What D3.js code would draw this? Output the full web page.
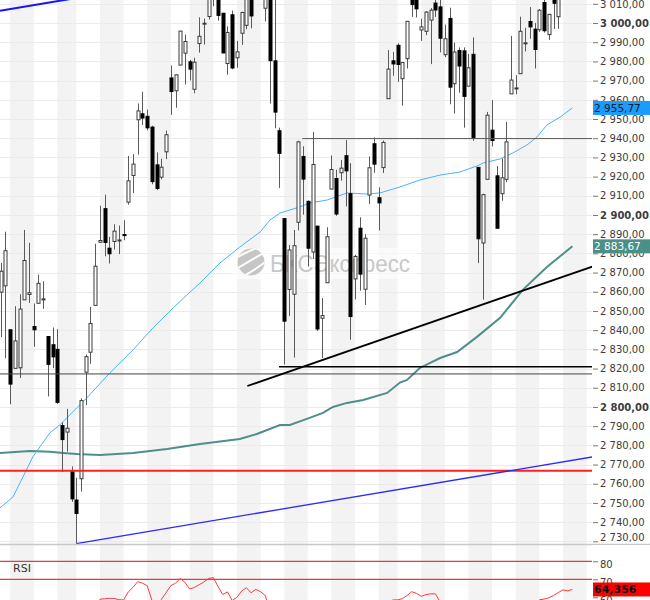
<!DOCTYPE html>
<html><head><meta charset="utf-8">
<script src="https://cdn.jsdelivr.net/npm/d3@7"></script>
<style>body{margin:0;background:#fff;overflow:hidden}svg{display:block;font-family:"DejaVu Sans",sans-serif}</style>
</head><body><svg id="c" width="650" height="600"></svg>
<script>
// ---- data (S&P 500 daily) ----
const dates = ["2019-05-09","2019-05-10","2019-05-13","2019-05-14","2019-05-15","2019-05-16","2019-05-17","2019-05-20","2019-05-21","2019-05-22","2019-05-23","2019-05-24","2019-05-28","2019-05-29","2019-05-30","2019-05-31","2019-06-03","2019-06-04","2019-06-05","2019-06-06","2019-06-07","2019-06-10","2019-06-11","2019-06-12","2019-06-13","2019-06-14","2019-06-17","2019-06-18","2019-06-19","2019-06-20","2019-06-21","2019-06-24","2019-06-25","2019-06-26","2019-06-27","2019-06-28","2019-07-01","2019-07-02","2019-07-03","2019-07-05","2019-07-08","2019-07-09","2019-07-10","2019-07-11","2019-07-12","2019-07-15","2019-07-16","2019-07-17","2019-07-18","2019-07-19","2019-07-22","2019-07-23","2019-07-24","2019-07-25","2019-07-26","2019-07-29","2019-07-30","2019-07-31","2019-08-01","2019-08-02","2019-08-05","2019-08-06","2019-08-07","2019-08-08","2019-08-09","2019-08-12","2019-08-13","2019-08-14","2019-08-15","2019-08-16","2019-08-19","2019-08-20","2019-08-21","2019-08-22","2019-08-23","2019-08-26","2019-08-27","2019-08-28","2019-08-29","2019-08-30","2019-09-03","2019-09-04","2019-09-05","2019-09-06","2019-09-09","2019-09-10","2019-09-11","2019-09-12","2019-09-13","2019-09-16","2019-09-17","2019-09-18","2019-09-19","2019-09-20","2019-09-23","2019-09-24","2019-09-25","2019-09-26","2019-09-27","2019-09-30","2019-10-01","2019-10-02","2019-10-03","2019-10-04","2019-10-07","2019-10-08","2019-10-09","2019-10-10","2019-10-11","2019-10-14","2019-10-15","2019-10-16","2019-10-17","2019-10-18","2019-10-21","2019-10-22","2019-10-23","2019-10-24","2019-10-25","2019-10-28","2019-10-29","2019-10-30"];
const opens = [2859.8,2863.1,2840.2,2820.1,2820.4,2855.8,2858.6,2841.9,2854.0,2856.1,2836.7,2832.4,2830.0,2790.3,2786.9,2766.2,2751.5,2762.6,2818.1,2828.5,2852.9,2885.8,2903.3,2882.7,2886.2,2886.8,2889.8,2906.7,2920.6,2949.6,2952.7,2951.4,2945.8,2926.1,2919.7,2932.9,2971.4,2964.7,2978.1,2984.3,2979.8,2965.5,2989.3,2999.6,3003.4,3017.8,3012.1,3005.1,2978.9,3004.3,2981.9,2994.7,2998.8,3016.3,3013.3,3024.5,3007.7,3016.2,2980.3,2943.9,2898.1,2861.2,2858.7,2896.2,2930.5,2907.1,2880.7,2894.2,2846.2,2864.7,2913.5,2919.0,2922.0,2930.9,2911.1,2866.7,2893.1,2861.3,2910.4,2937.1,2909.0,2924.7,2960.6,2980.3,2988.4,2971.0,2981.4,3018.2,3012.2,2996.4,2995.7,3001.5,3010.4,3008.4,2983.5,3002.4,2968.4,2985.7,2985.5,2967.1,2983.7,2924.8,2885.4,2918.6,2944.2,2920.4,2911.1,2918.6,2963.1,2965.8,2973.6,2989.7,3000.8,2996.8,2996.5,3010.7,2994.0,3014.8,3003.3,3032.1,3035.4,3039.7];
const highs = [2875.0,2891.3,2840.2,2852.5,2858.7,2892.2,2885.5,2853.9,2868.9,2865.5,2836.7,2841.4,2840.5,2792.0,2799.0,2769.0,2763.1,2804.5,2827.3,2852.1,2885.0,2904.8,2910.6,2888.6,2895.2,2894.5,2897.3,2930.8,2931.7,2958.1,2964.2,2954.9,2946.5,2932.6,2929.3,2944.0,2977.9,2973.2,2995.8,2994.0,2980.8,2981.9,3003.0,3002.3,3013.9,3017.8,3015.0,3005.3,2998.3,3006.5,2990.7,3005.9,3019.6,3016.3,3028.0,3025.6,3017.2,3017.4,3013.6,2945.5,2898.1,2884.4,2892.2,2938.7,2935.8,2907.6,2943.3,2894.2,2856.7,2893.6,2931.0,2923.6,2928.7,2939.1,2927.0,2879.3,2898.8,2890.0,2930.5,2940.4,2914.4,2938.8,2985.9,2985.0,2989.4,2979.4,3000.9,3021.0,3017.3,3002.2,3006.2,3007.8,3021.9,3016.4,2999.2,3008.0,2989.8,2987.3,2987.3,2983.9,2992.5,2924.8,2911.1,2953.7,2959.8,2925.5,2929.3,2948.5,2993.3,2972.8,3003.3,2997.5,3008.3,3000.0,3007.3,3014.6,3004.8,3016.1,3027.4,3044.1,3047.9,3050.1];
const lows = [2836.4,2825.4,2801.4,2820.1,2815.1,2855.8,2854.2,2831.3,2854.0,2851.1,2805.5,2820.2,2801.6,2766.1,2776.7,2750.5,2728.8,2755.9,2800.9,2822.5,2852.9,2885.5,2878.5,2874.7,2882.0,2879.6,2886.9,2905.4,2911.4,2931.5,2946.9,2944.1,2916.0,2913.0,2918.6,2929.1,2952.2,2955.9,2978.0,2968.0,2970.1,2963.4,2984.6,2988.8,3001.9,3008.8,3001.2,2984.3,2973.1,2975.9,2976.7,2988.6,2996.8,2997.2,3012.6,3014.5,3000.9,2958.1,2945.2,2914.1,2822.1,2847.4,2825.7,2892.0,2900.2,2873.1,2877.1,2839.6,2825.5,2864.7,2913.5,2899.6,2917.9,2904.5,2835.0,2856.0,2860.6,2853.1,2905.7,2922.0,2891.9,2921.9,2960.6,2972.5,2969.4,2957.0,2976.3,3003.2,3002.9,2990.7,2993.7,2978.6,3003.2,2984.7,2982.2,2957.7,2952.9,2963.7,2945.5,2967.1,2938.7,2874.9,2855.9,2918.6,2935.7,2892.7,2907.4,2917.1,2963.1,2962.9,2973.6,2985.2,2991.8,2976.3,2995.4,2995.0,2991.2,2996.9,2997.0,3032.1,3034.8,3026.0];
const closes = [2870.7,2881.4,2811.9,2834.4,2851.0,2876.3,2859.5,2840.2,2864.4,2856.3,2822.2,2826.1,2802.4,2783.0,2788.9,2752.1,2744.5,2803.3,2826.2,2843.5,2873.3,2886.7,2885.7,2879.8,2891.6,2887.0,2889.7,2917.8,2926.5,2954.2,2950.5,2945.4,2917.4,2913.8,2924.9,2941.8,2964.3,2973.0,2995.8,2990.4,2976.0,2979.6,2993.1,2999.9,3013.8,3014.3,3004.0,2984.4,2995.1,2976.6,2985.0,3005.5,3019.6,3003.7,3025.9,3021.0,3013.2,2980.4,2953.6,2932.1,2844.7,2881.8,2884.0,2938.1,2918.7,2882.7,2926.3,2840.6,2847.6,2888.7,2923.7,2900.5,2924.4,2923.0,2847.1,2878.4,2869.2,2887.9,2924.6,2926.5,2906.3,2937.8,2976.0,2978.7,2978.4,2979.4,3000.9,3009.6,3007.4,2998.0,3005.7,3006.7,3006.8,2992.1,2991.8,2966.6,2984.9,2977.6,2961.8,2976.7,2940.3,2887.6,2910.6,2952.0,2938.8,2893.1,2919.4,2938.1,2970.3,2966.2,2995.7,2989.7,2998.0,2986.2,3006.7,2996.0,3004.5,3010.3,3022.6,3039.4,3036.9,3046.8];
const rsi = [45,48,37,41,45,50,46,42,47,45,38,39,35,31,33,28,27,40,46,50,56,58.9,59.2,59.4,59.4,58.7,58.5,63,65.5,68.7,67.8,66.5,58.4,56,58.8,62.5,66.5,67.8,70.5,68.3,64.6,65.5,67,68.5,70.5,70.9,66,61.5,63,58.2,60,63.5,65.3,62.5,64.4,63.1,61,52,46,42,33,40,41,50,47,42,49,39,40,46,50,47,50,50,40,44,43,46,51,51,48,52,57.5,58.5,58.6,59.2,61,63.1,62.2,60.5,61.5,61.9,61.9,57.5,56,51,54,53,50,52,45,37,42,49,46,40,44,48,53,53,57,56,57.5,55,58.6,59.0,59.7,61,62.6,64.1,63.6,64.356];
// moving averages read at sample points (trading-day index, value)
const ma50Pos = [-0.15,2.6,4.7,6.8,8.3,10.4,12.5,14,16.1,17.8,23.1,28,32.2,36.5,39.4,42.2,46.4,50.6,54.9,57,59.1,63.3,65.5,69.1,73.3,77.5,80.3,84.5,88.7,93,97.2,100.8,102.1,105.7,108.4,111.4,113.5,115.6,118.4,121];
const ma50Val = [2747.4,2753.1,2763.5,2774.0,2779.2,2786.5,2790.6,2794.3,2799.5,2803.6,2817.7,2829.7,2841.1,2851.6,2858.3,2864.6,2875.0,2883.3,2891.1,2897.4,2901.0,2904.2,2906.3,2907.8,2911.5,2910.9,2911.5,2914.6,2918.2,2920.8,2922.4,2925.5,2927.1,2929.2,2932.3,2936.5,2940.6,2946.9,2951.0,2955.77];
const ma200Pos = [-0.15,6.2,10.4,13.2,16.1,21,28,35.2,42.2,46.4,50.6,54.2,59.1,61.2,64.8,68.2,70.3,73.3,76.7,81.8,84.5,86,88.7,93,96.6,100.8,105.7,110.5,115.6,121];
const ma200Val = [2776.0,2777.1,2776.6,2776.0,2775.5,2775.0,2776.0,2778.1,2780.7,2782.0,2783.3,2785.9,2790.6,2790.6,2793.8,2796.9,2800.0,2802.1,2803.6,2807.3,2812.7,2814.1,2820.3,2825.5,2828.6,2836.5,2846.4,2861.0,2872.9,2883.67];
// drawn lines: [startIndex, startValue, endIndex, endValue]
const channelLow = [16, 2728.8, 125.3, 2774.0];
const channelHigh = [-0.15, 3006.4, 30, 3018.8];
const supportLine = [52.2, 2810.9, 125.3, 2873.2];
const level2940 = [63.8, 2939.8, 125.3, 2939.8];
const level2821 = [58.9, 2820.9, 125.3, 2820.9];
const level2817 = [-1, 2817.2, 125.3, 2817.2];
const levelRed = [-1, 2766.7, 125.3, 2766.7];
const priceTicks = d3.range(2730, 3011, 10);
const rsiTicks = [60, 70, 80];
const rsiLevels = [70, 80];

// ---- layout ----
const W = 650, H = 600, plotR = 592, priceB = 544;
const svg = d3.select("#c");
const x = d3.scaleLinear().domain([0, 121]).range([0.7, 572.4]);
const y = d3.scaleLinear().domain([2728.6, 3012]).range([priceB, 0]);
const ry = d3.scaleLinear().domain([70, 80]).range([579.3, 561.3]);
const loc = d3.formatLocale({decimal: ",", thousands: "\u00a0", grouping: [3], currency: ["", ""]});
const fmt2 = loc.format(",.2f"), fmt3 = loc.format(",.3f");

const defs = svg.append("defs");
defs.append("clipPath").attr("id", "cp").append("rect").attr("x", 0).attr("y", 0).attr("width", plotR).attr("height", priceB);
defs.append("clipPath").attr("id", "cr").append("rect").attr("x", 0).attr("y", priceB + 1).attr("width", plotR).attr("height", H - priceB);
defs.append("clipPath").attr("id", "cl").append("circle").attr("cx", 251).attr("cy", 262).attr("r", 13.5);

// weekly bands
const parse = d3.timeParse("%Y-%m-%d");
const dt = dates.map(parse);
const weekStarts = [];
dt.forEach((d, i) => { if (i === 0 || d3.timeMonday.count(dt[i - 1], d) > 0) weekStarts.push(i); });
const ref = parse("2019-05-13");
const bands = weekStarts.map((s, k) => {
  const x0 = k === 0 ? 0 : x(s);
  const x1 = k < weekStarts.length - 1 ? x(weekStarts[k + 1]) : x(s + 5);
  const wk = d3.timeMonday.count(ref, dt[s]);
  return {x0, x1, gray: Math.abs(wk) % 2 === 0 && dt[s] >= ref || (dt[s] < ref && Math.abs(wk) % 2 === 0)};
});
// last band continues to the edge (white)
const lastEnd = bands[bands.length - 1].x1;
bands.push({x0: lastEnd, x1: plotR, gray: !bands[bands.length - 1].gray});
svg.append("g").selectAll("rect").data(bands.filter(b => b.gray)).join("rect")
  .attr("x", b => b.x0).attr("y", 0).attr("width", b => Math.min(b.x1, plotR) - b.x0).attr("height", H)
  .attr("fill", "#f3f3f3");

// horizontal grid
svg.append("g").selectAll("line").data(priceTicks).join("line")
  .attr("x1", 0).attr("x2", plotR).attr("y1", d => Math.round(y(d)) + 0.5).attr("y2", d => Math.round(y(d)) + 0.5)
  .attr("stroke", "#ebebeb").attr("stroke-width", 1);

// watermark
const wm = svg.append("g");
wm.append("rect").attr("x", 232).attr("y", 248).attr("width", 185).attr("height", 31).attr("fill", "#fff").attr("opacity", 0.55);
wm.append("circle").attr("cx", 251).attr("cy", 262).attr("r", 13.5).attr("fill", "#c6c6c6");
const lg = wm.append("g").attr("clip-path", "url(#cl)").attr("fill", "none").attr("stroke", "#fff").attr("stroke-width", 2);
lg.append("path").attr("d", "M236,258 Q250,250 262,246");
lg.append("path").attr("d", "M238,268 Q254,258 266,252");
lg.append("path").attr("d", "M242,277 Q258,268 268,260");
wm.append("text").attr("x", 270).attr("y", 271.5).attr("font-family", "'Liberation Sans',Arial,sans-serif")
  .attr("font-size", 23).attr("fill", "#c8c8c8").attr("textLength", 140).attr("lengthAdjust", "spacingAndGlyphs")
  .text("БКСЭкспресс");

// price panel
const pg = svg.append("g").attr("clip-path", "url(#cp)");
const line = d3.line().x(d => x(d[0])).y(d => y(d[1]));
pg.append("path").datum(ma200Pos.map((p, i) => [p, ma200Val[i]])).attr("d", line)
  .attr("fill", "none").attr("stroke", "#4d8f8a").attr("stroke-width", 2);
pg.append("path").datum(ma50Pos.map((p, i) => [p, ma50Val[i]])).attr("d", line)
  .attr("fill", "none").attr("stroke", "#4cb3f7").attr("stroke-width", 1);

const candles = dates.map((d, i) => ({i, o: opens[i], h: highs[i], l: lows[i], c: closes[i]}));
const cg = pg.append("g");
cg.selectAll("line").data(candles).join("line")
  .attr("x1", d => Math.round(x(d.i)) + 0.5).attr("x2", d => Math.round(x(d.i)) + 0.5)
  .attr("y1", d => y(d.h)).attr("y2", d => y(d.l))
  .attr("stroke", "#5a5a5a").attr("stroke-width", 1);
cg.selectAll("rect").data(candles).join("rect")
  .attr("x", d => Math.round(x(d.i)) - 1).attr("width", 3)
  .attr("y", d => y(Math.max(d.o, d.c))).attr("height", d => Math.max(1, Math.abs(y(d.o) - y(d.c))))
  .attr("fill", d => d.c < d.o ? "#000" : "#fff")
  .attr("stroke", d => d.c < d.o ? "#000" : "#3a3a3a").attr("stroke-width", 1);

function seg(a, color, w) {
  pg.append("line").attr("x1", x(a[0])).attr("y1", y(a[1])).attr("x2", x(a[2])).attr("y2", y(a[3]))
    .attr("stroke", color).attr("stroke-width", w);
}
seg(levelRed, "#ff2020", 2);
seg(channelLow, "#2a2aff", 1.3);
seg(channelHigh, "#1414ff", 2);
seg(level2817, "#444", 1);
seg(level2821, "#000", 1.5);
seg(level2940, "#555", 1);
seg(supportLine, "#000", 1.8);

// price axis
const ax = svg.append("g").attr("transform", `translate(${plotR + 1},0)`)
  .call(d3.axisRight(y).tickValues(priceTicks).tickSize(5).tickPadding(2).tickFormat(fmt2));
ax.select(".domain").remove();
ax.selectAll(".tick line").attr("stroke", "#777");
ax.selectAll(".tick text").attr("font-family", "'DejaVu Sans',sans-serif").attr("font-size", 10)
  .attr("fill", "#3c3c3c").attr("font-weight", d => d % 100 === 0 ? "bold" : "normal");
ax.selectAll(".tick").filter(d => d === 2730).select("text").attr("y", -4.5);

function valueBox(v, txt, bg, fg, weight) {
  const cy = y(v);
  svg.append("rect").attr("x", plotR + 1).attr("y", cy - 7).attr("width", W - plotR).attr("height", 14).attr("fill", bg);
  svg.append("text").attr("x", plotR + 2).attr("y", cy).attr("dy", "0.35em").attr("font-size", 10.5)
    .attr("font-weight", weight).attr("fill", fg).text(txt);
}
valueBox(ma50Val[ma50Val.length - 1], fmt2(ma50Val[ma50Val.length - 1]), "#1a9cff", "#0a1a2a", "normal");
valueBox(ma200Val[ma200Val.length - 1], fmt2(ma200Val[ma200Val.length - 1]), "#4a8f88", "#fff", "normal");

// panel separator
svg.append("line").attr("x1", 0).attr("x2", W).attr("y1", priceB + 0.5).attr("y2", priceB + 0.5)
  .attr("stroke", "#c8c8c8").attr("stroke-width", 1.5);

// RSI panel
svg.append("rect").attr("x", plotR).attr("y", priceB + 1).attr("width", W - plotR).attr("height", H - priceB).attr("fill", "#fff");
const rg = svg.append("g").attr("clip-path", "url(#cr)");
rg.selectAll("line").data(rsiLevels).join("line")
  .attr("x1", 0).attr("x2", plotR).attr("y1", d => ry(d)).attr("y2", d => ry(d))
  .attr("stroke", "#e83a3a").attr("stroke-width", 1.2);
rg.append("path").datum(rsi).attr("d", d3.line().x((d, i) => x(i)).y(d => ry(d)))
  .attr("fill", "none").attr("stroke", "#ff3a3a").attr("stroke-width", 1);
svg.append("text").attr("x", 13).attr("y", 572).attr("font-size", 11).attr("fill", "#333").text("RSI");
const rax = svg.append("g").attr("transform", `translate(${plotR + 1},0)`)
  .call(d3.axisRight(ry).tickValues(rsiTicks).tickSize(5).tickPadding(2));
rax.select(".domain").remove();
rax.selectAll(".tick line").attr("stroke", "#777");
rax.selectAll(".tick text").attr("font-size", 10).attr("fill", "#3c3c3c").attr("y", 2.5)
  .attr("font-family", "'DejaVu Sans',sans-serif");
const rl = rsi[rsi.length - 1];
svg.append("rect").attr("x", plotR + 1).attr("y", ry(rl) - 7).attr("width", W - plotR).attr("height", 14).attr("fill", "#ff0000");
svg.append("text").attr("x", plotR + 2).attr("y", ry(rl)).attr("dy", "0.35em").attr("font-size", 11)
  .attr("font-weight", "bold").attr("fill", "#111").text(fmt3(rl));
</script></body></html>
